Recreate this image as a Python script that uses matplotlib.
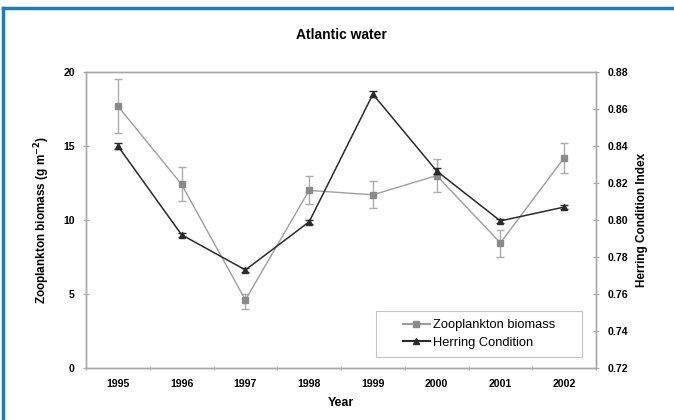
import numpy as np
import matplotlib
matplotlib.use("Agg")
import matplotlib.pyplot as plt
from matplotlib.lines import Line2D
from matplotlib.patches import Rectangle

plt.rcParams['font.family'] = ['Liberation Sans', 'DejaVu Sans']

# Data
years = [1995, 1996, 1997, 1998, 1999, 2000, 2001, 2002]
zoo = [17.7, 12.4, 4.6, 12.0, 11.7, 13.0, 8.45, 14.2]
zoo_lo = [15.9, 11.3, 4.0, 11.1, 10.8, 11.9, 7.5, 13.15]
zoo_hi = [19.5, 13.6, 5.0, 13.0, 12.65, 14.1, 9.3, 15.2]
herring = [0.840, 0.792, 0.773, 0.799, 0.868, 0.8265, 0.7995, 0.807]
herring_err = [0.0015, 0.0012, 0.001, 0.001, 0.0015, 0.0015, 0.001, 0.001]

zoo_err = [np.array(zoo) - np.array(zoo_lo), np.array(zoo_hi) - np.array(zoo)]

fig = plt.figure(figsize=(6.74, 4.2), dpi=100)
ax = fig.add_axes([0.1276, 0.1238, 0.7567, 0.7048])
ax2 = ax.twinx()

ax.errorbar(years, zoo, yerr=zoo_err, color="#9f9f9f", ecolor="#acacac",
            marker="s", markersize=5, markerfacecolor="#8a8a8a",
            markeredgecolor="#8a8a8a", lw=1.0, elinewidth=1.0, capsize=3,
            capthick=1.0, zorder=3)
ax2.errorbar(years, herring, yerr=herring_err, color="#2a2a2a", ecolor="#2a2a2a",
             marker="^", markersize=5, lw=1.1, elinewidth=1.0, capsize=3,
             capthick=1.0, zorder=3)

ax.set_xlim(1994.5, 2002.5)
ax.set_ylim(0, 20)
ax2.set_ylim(0.72, 0.88)
ax.set_yticks([0, 5, 10, 15, 20])
ax2.set_yticks(np.arange(0.72, 0.881, 0.02))
ax2.set_yticklabels(["%.2f" % v for v in np.arange(0.72, 0.881, 0.02)])
ax.set_xticks(years)
ax.set_xticks(np.arange(1994.5, 2003, 1), minor=True)

for a in (ax, ax2):
    for s in a.spines.values():
        s.set_color("#a8a8a8")
        s.set_linewidth(1.0)

ax.tick_params(axis='x', which='major', length=0, pad=8, labelsize=7.6)
ax.tick_params(axis='x', which='minor', length=3, direction='inout', color="#a8a8a8")
ax.tick_params(axis='y', length=4, direction='inout', color="#a8a8a8", labelsize=7.6, pad=6)
ax2.tick_params(axis='y', length=4, direction='inout', color="#a8a8a8", labelsize=7.6, pad=6)
for lab in ax.get_xticklabels() + ax.get_yticklabels() + ax2.get_yticklabels():
    lab.set_fontweight('bold')

ax.set_xlabel("Year", fontsize=9, fontweight='bold', labelpad=6)
ax.set_ylabel("Zooplankton biomass (g m$^{\\mathbf{-2}}$)", fontsize=8.5, fontweight='bold', labelpad=8)
ax2.set_ylabel("Herring Condition Index", fontsize=8.5, fontweight='bold', labelpad=6)
ax.set_title("Atlantic water", fontsize=10, fontweight='bold', pad=24)

# legend frame drawn separately (wide side padding)
ax.add_patch(Rectangle((0.569, 0.037), 0.4035, 0.1556, transform=ax.transAxes,
                       facecolor="white", edgecolor="#c4c4c4", lw=0.8, zorder=4))
handles = [Line2D([], [], color="#9f9f9f", marker="s", markersize=4,
                  markerfacecolor="#8a8a8a", markeredgecolor="#8a8a8a"),
           Line2D([], [], color="#2a2a2a", marker="^", markersize=4)]
leg = ax.legend(handles, ["Zooplankton biomass", "Herring Condition"],
                loc="center", bbox_to_anchor=(0.771, 0.115),
                fontsize=9.3, frameon=False, handlelength=2.1,
                handletextpad=0.25, borderpad=0.3, labelspacing=0.45)
leg.set_zorder(5)

# blue frame around figure
fig.add_artist(Line2D([3 / 674, 1], [1 - 8 / 420, 1 - 8 / 420], color="#1a7cc4", lw=2.5,
                      transform=fig.transFigure))
fig.add_artist(Line2D([3 / 674, 3 / 674], [0, 1 - 8 / 420], color="#1a7cc4", lw=2.5,
                      transform=fig.transFigure))

fig.savefig("out.png", dpi=100)
